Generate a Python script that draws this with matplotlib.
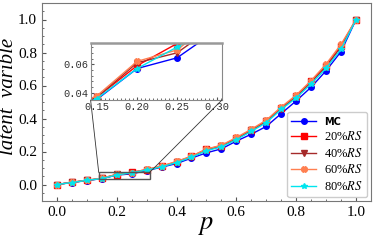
import numpy as np
import matplotlib
matplotlib.use("Agg")
import matplotlib.pyplot as plt
from matplotlib.patches import Rectangle, ConnectionPatch
from matplotlib.ticker import MultipleLocator

plt.rcParams["font.family"] = ["Liberation Serif", "DejaVu Serif"]
plt.rcParams["mathtext.fontset"] = "stix"

p = [0.0, 0.05, 0.1, 0.15, 0.2, 0.25, 0.3, 0.35, 0.4, 0.45, 0.5,
     0.55, 0.6, 0.65, 0.7, 0.75, 0.8, 0.85, 0.9, 0.95, 1.0]
mc = [0, 0.012, 0.024, 0.0355, 0.057, 0.0645, 0.084, 0.105, 0.127, 0.16, 0.192,
      0.216, 0.263, 0.305, 0.352, 0.43, 0.507, 0.59, 0.69, 0.806, 1.0]
rs20 = [0, 0.013, 0.025, 0.037, 0.059, 0.0745, 0.09, 0.11, 0.137, 0.17, 0.213,
        0.235, 0.28, 0.33, 0.385, 0.465, 0.535, 0.625, 0.72, 0.84, 1.0]
rs40 = [0, 0.013, 0.025, 0.037, 0.061, 0.068, 0.088, 0.108, 0.135, 0.168, 0.21,
        0.232, 0.278, 0.328, 0.382, 0.46, 0.53, 0.62, 0.715, 0.835, 1.0]
rs60 = [0, 0.013, 0.026, 0.038, 0.062, 0.070, 0.092, 0.112, 0.14, 0.172, 0.215,
        0.238, 0.285, 0.335, 0.39, 0.47, 0.542, 0.63, 0.73, 0.85, 1.0]
rs80 = [0, 0.012, 0.025, 0.036, 0.057, 0.072, 0.087, 0.107, 0.133, 0.165, 0.205,
        0.228, 0.272, 0.322, 0.375, 0.455, 0.525, 0.61, 0.705, 0.82, 1.0]

series = [
    (mc, "MC", "#0000ff", "o"),
    (rs20, "20%$RS$", "#ff0000", "s"),
    (rs40, "40%$RS$", "#a52a2a", "v"),
    (rs60, "60%$RS$", "#ff7f50", "X"),
    (rs80, "80%$RS$", "#00e5ee", "*"),
]

fig = plt.figure(figsize=(3.74, 2.4), dpi=100)
ax = fig.add_axes([0.112, 0.1625, 0.88, 0.825])

for y, lab, c, m in series:
    ax.plot(p, y, color=c, marker=m, ms=4, lw=1, label=lab)

ax.set_xlim(-0.05, 1.05)
ax.set_ylim(-0.1, 1.1)
ax.xaxis.set_major_locator(MultipleLocator(0.2))
ax.xaxis.set_minor_locator(MultipleLocator(0.05))
ax.yaxis.set_major_locator(MultipleLocator(0.2))
ax.yaxis.set_minor_locator(MultipleLocator(0.05))
ax.tick_params(which="both", direction="in", labelsize=11, colors="#555555",
               labelcolor="black")
ax.tick_params(which="major", length=3)
ax.tick_params(which="minor", length=1.5)
for s in ax.spines.values():
    s.set_color("#777777")
ax.set_xlabel("$p$", fontsize=19, labelpad=-3)
ax.set_ylabel("latent  varible", fontsize=15, style="italic")
ax.yaxis.set_label_coords(-0.072, 0.53)

leg = ax.legend(loc="lower right", fontsize=9, frameon=True, fancybox=True,
                edgecolor="#cccccc", framealpha=1, handlelength=2.0,
                borderpad=0.35, labelspacing=0.28, borderaxespad=0.3,
                handletextpad=0.6)
leg.get_texts()[0].set_fontfamily("DejaVu Sans")
leg.get_texts()[0].set_fontweight("bold")
leg.get_texts()[0].set_fontsize(7)

# zoomed region
x0, x1, y0, y1 = 0.14, 0.31, 0.031, 0.073
ax.add_patch(Rectangle((x0, y0), x1 - x0, y1 - y0, fill=False,
                       edgecolor="#555555", lw=1, zorder=5))

axins = ax.inset_axes([0.148, 0.51, 0.399, 0.289])
for y, lab, c, m in series:
    axins.plot(p, y, color=c, marker=m, ms=4, lw=1)
axins.set_xlim(0.142, 0.306)
axins.set_ylim(0.035, 0.075)
axins.set_xticks([0.15, 0.20, 0.25, 0.30])
axins.set_xticklabels(["0.15", "0.20", "0.25", "0.30"])
axins.set_yticks([0.04, 0.06])
axins.set_yticklabels(["0.04", "0.06"])
axins.xaxis.set_minor_locator(MultipleLocator(0.005))
axins.yaxis.set_minor_locator(MultipleLocator(0.004))
axins.tick_params(which="both", direction="in", labelsize=7.5, colors="#555555",
                  labelcolor="#333333", pad=1.5)
axins.tick_params(which="major", length=2.5)
axins.tick_params(which="minor", length=1.5)
for lbl in axins.get_xticklabels() + axins.get_yticklabels():
    lbl.set_fontfamily("Liberation Mono")
for s in axins.spines.values():
    s.set_color("#888888")
axins.spines["top"].set_linewidth(1.8)
axins.spines["top"].set_color("#999999")

for (xa, ya), (xb, yb) in [((x0, y1), (0, 0)), ((x1, y1), (1, 0))]:
    con = ConnectionPatch(xyA=(xa, ya), coordsA=ax.transData,
                          xyB=(xb, yb), coordsB=axins.transAxes,
                          color="#333333", lw=0.6)
    fig.add_artist(con)

fig.savefig("out.png", dpi=100)
